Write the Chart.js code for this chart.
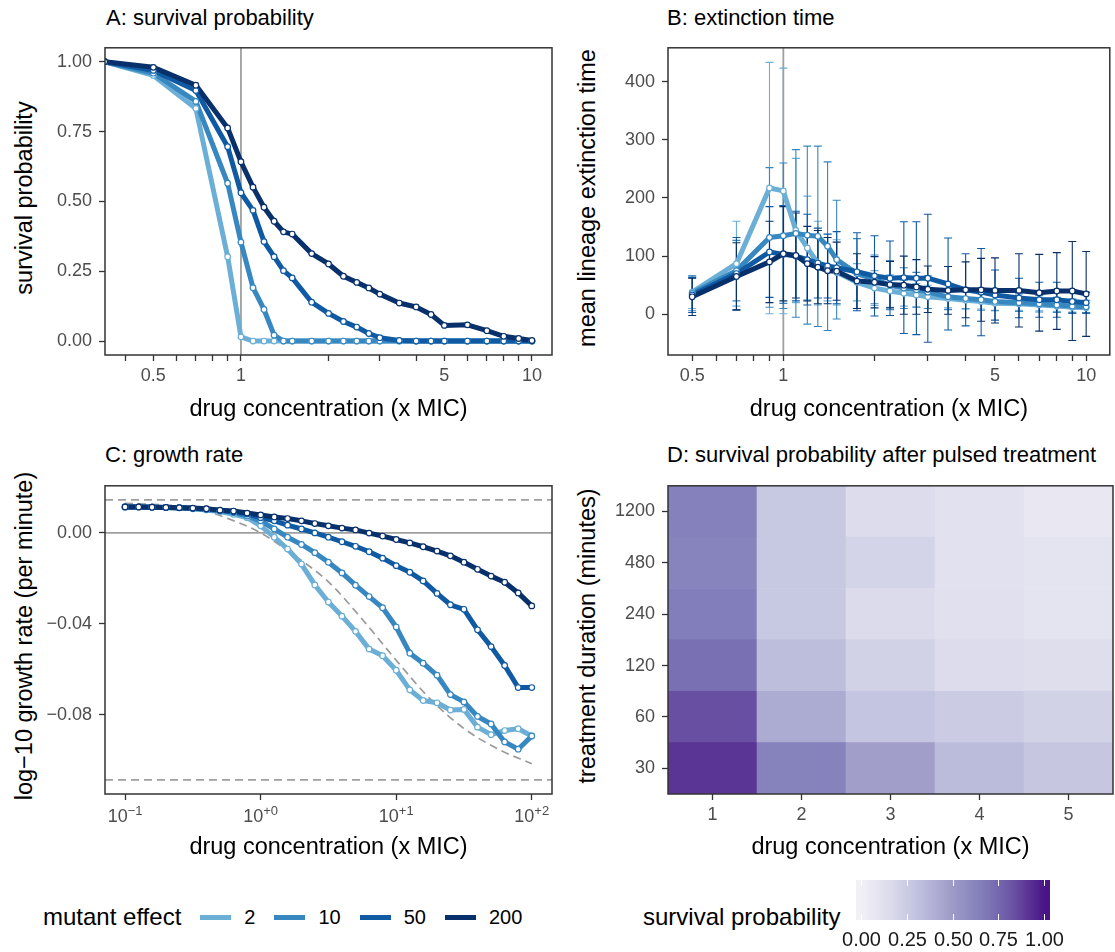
<!DOCTYPE html>
<html>
<head>
<meta charset="utf-8">
<title>mutant survival figure</title>
<script src="https://cdn.jsdelivr.net/npm/chart.js@4.4.1/dist/chart.umd.min.js"></script>
<style>
  body { margin: 0; background: #fff; }
  #fig { position: relative; width: 1115px; height: 952px; overflow: hidden;
         font-family: "Liberation Sans", Arial, Helvetica, sans-serif; color: #000; }
  #fig canvas { position: absolute; }
  .ttl { position: absolute; font-size: 22px; line-height: 1; white-space: nowrap; }
  .ytl { position: absolute; font-size: 23.5px; line-height: 1; white-space: nowrap;
         transform: translate(-50%, -50%) rotate(-90deg); }
  .leg { position: absolute; display: flex; align-items: center; height: 30px; white-space: nowrap; }
</style>
</head>
<body>
<div id="fig">
  <div class="ttl" style="left:106px; top:7px">A: survival probability</div>
  <div class="ttl" style="left:667px; top:7px">B: extinction time</div>
  <div class="ttl" style="left:105px; top:444px">C: growth rate</div>
  <div class="ttl" style="left:667px; top:444px">D: survival probability after pulsed treatment</div>

  <div class="ytl" style="left:25px; top:198px">survival probability</div>
  <div class="ytl" style="left:588px; top:198px">mean lineage extinction time</div>
  <div class="ytl" style="left:25px; top:636px">log&minus;10 growth rate (per minute)</div>
  <div class="ytl" style="left:588px; top:636px">treatment duration (minutes)</div>

  <canvas id="cA" width="560" height="400" style="left:0; top:30px"></canvas>
  <canvas id="cB" width="552" height="400" style="left:563px; top:30px"></canvas>
  <canvas id="cC" width="560" height="400" style="left:0; top:468px"></canvas>
  <canvas id="cD" width="552" height="400" style="left:563px; top:468px"></canvas>

  <div class="leg" id="legMut" style="left:43px; top:902px"></div>
  <div class="leg" style="left:643px; top:902px; font-size:24px">survival probability</div>
  <canvas id="cbar" width="240" height="82" style="left:840px; top:870px"></canvas>
</div>

<script>
// ---- series shared by A, B, C
const effects = ['2', '10', '50', '200'];
const blues = ['#6baed6', '#3787c0', '#0f5aa3', '#08306b'];

// ---- A: survival probability
const concA = [0.34, 0.5, 0.7, 0.9, 1, 1.1, 1.2, 1.3, 1.4, 1.5, 1.75, 2, 2.25, 2.5, 2.75, 3, 3.5, 4, 4.5, 5, 6, 7, 8, 9, 10];
const survA2 = [1, 0.951, 0.833, 0.302, 0.015, 0, 0, 0, 0, 0, 0, 0, 0, 0, 0, 0, 0, 0, 0, 0, 0, 0, 0, 0, 0];
const survA10 = [1, 0.959, 0.858, 0.565, 0.354, 0.191, 0.113, 0.021, 0, 0, 0, 0, 0, 0, 0, 0, 0, 0, 0, 0, 0, 0, 0, 0, 0];
const survA50 = [1, 0.969, 0.897, 0.696, 0.531, 0.468, 0.356, 0.302, 0.252, 0.226, 0.139, 0.099, 0.070, 0.050, 0.027, 0.012, 0.002, 0, 0, 0, 0, 0, 0, 0, 0];
const survA200 = [1, 0.980, 0.916, 0.763, 0.642, 0.551, 0.479, 0.429, 0.391, 0.383, 0.313, 0.276, 0.232, 0.210, 0.190, 0.168, 0.136, 0.122, 0.095, 0.056, 0.058, 0.037, 0.017, 0.009, 0.002];
const ticksA = [0.4, 0.5, 0.6, 0.7, 0.8, 0.9, 1, 2, 3, 4, 5, 6, 7, 8, 9, 10];
const labelsA = [0.5, 1, 5, 10];
const ticksSurv = [0, 0.25, 0.5, 0.75, 1];

// ---- B: extinction time (mean and sd)
const concB = [0.5, 0.7, 0.9, 1, 1.1, 1.2, 1.3, 1.4, 1.5, 1.75, 2, 2.25, 2.5, 2.75, 3, 3.5, 4, 4.5, 5, 6, 7, 8, 9, 10];
const timeB2 = [38, 87, 217, 212, 144, 114, 88, 80, 72, 55, 45, 40, 36, 33, 30, 27, 24, 22, 19, 18, 16, 14, 12, 11];
const sdB2 = [28, 73, 216, 211, 124, 89, 72, 57, 56, 32, 30, 28, 22, 20, 20, 16, 14, 13, 12, 11, 10, 9, 8, 8];
const timeB10 = [36, 75, 132, 135, 139, 136, 134, 117, 94, 70, 60, 50, 45, 42, 38, 30, 27, 25, 22, 20, 18, 16, 14, 13];
const sdB10 = [30, 52, 120, 125, 144, 153, 155, 145, 102, 60, 42, 42, 35, 30, 28, 22, 18, 18, 16, 15, 14, 13, 12, 11];
const timeB50 = [33, 70, 107, 103, 100, 94, 88, 83, 80, 73, 66, 62, 63, 62, 62, 52, 42, 38, 33, 28, 25, 25, 22, 20];
const sdB50 = [30, 62, 78, 84, 77, 78, 60, 55, 62, 67, 69, 64, 96, 97, 110, 79, 62, 75, 43, 34, 30, 30, 20, 18];
const timeB200 = [30, 65, 90, 104, 101, 87, 81, 75, 74, 57, 55, 51, 50, 47, 43, 41, 42, 42, 41, 41, 37, 40, 40, 35];
const sdB200 = [32, 58, 70, 81, 73, 64, 63, 57, 50, 47, 44, 40, 50, 47, 40, 41, 48, 54, 56, 63, 66, 66, 85, 73];
const ticksB = [0.5, 0.6, 0.7, 0.8, 0.9, 1, 2, 3, 4, 5, 6, 7, 8, 9, 10];
const ticksTime = [0, 100, 200, 300, 400];

// ---- C: growth rate
const concC = [0.1, 0.126, 0.158, 0.2, 0.251, 0.316, 0.398, 0.501, 0.631, 0.794, 1, 1.26, 1.58, 2, 2.51, 3.16, 3.98, 5.01, 6.31, 7.94, 10, 12.6, 15.8, 20, 25.1, 31.6, 39.8, 50.1, 63.1, 79.4, 100];
const growth2 = [0.0114, 0.0114, 0.0113, 0.0112, 0.0110, 0.0106, 0.0101, 0.0094, 0.0082, 0.0067, 0.0031, -0.0019, -0.0071, -0.0137, -0.0229, -0.0304, -0.0366, -0.0433, -0.0511, -0.0540, -0.0604, -0.0690, -0.0737, -0.0747, -0.0779, -0.0776, -0.0854, -0.0887, -0.0869, -0.0861, -0.0893];
const growth10 = [0.0114, 0.0114, 0.0113, 0.0112, 0.0110, 0.0107, 0.0103, 0.0097, 0.0089, 0.0074, 0.0053, 0.0017, -0.0019, -0.0051, -0.0087, -0.0129, -0.0176, -0.0230, -0.0280, -0.0329, -0.0414, -0.0529, -0.0573, -0.0626, -0.0711, -0.0743, -0.0807, -0.0840, -0.0919, -0.0951, -0.0893];
const growth50 = [0.0114, 0.0114, 0.0113, 0.0112, 0.0111, 0.0108, 0.0105, 0.0099, 0.0093, 0.0083, 0.0067, 0.0053, 0.0034, 0.0017, 0.0000, -0.0019, -0.0039, -0.0059, -0.0083, -0.0111, -0.0144, -0.0173, -0.0211, -0.0266, -0.0316, -0.0336, -0.0426, -0.0500, -0.0583, -0.0680, -0.0680];
const growth200 = [0.0114, 0.0114, 0.0113, 0.0112, 0.0111, 0.0109, 0.0106, 0.0100, 0.0096, 0.0087, 0.0079, 0.0070, 0.0063, 0.0053, 0.0041, 0.0031, 0.0021, 0.0013, -0.0001, -0.0014, -0.0029, -0.0044, -0.0061, -0.0080, -0.0101, -0.0129, -0.0160, -0.0190, -0.0217, -0.0264, -0.0321];
// wild-type curve (grey dashed) and the growth bounds
const curveX = [0.1, 0.178, 0.316, 0.562, 1, 1.78, 3.16, 5.62, 10, 17.8, 31.6, 56.2, 100];
const curveY = [0.0130, 0.0124, 0.0112, 0.0065, 0, -0.0100, -0.0215, -0.0380, -0.0560, -0.0730, -0.0860, -0.0950, -0.1015];
const boundsC = [0.0145, -0.1086];
const ticksC = [0.1, 1, 10, 100];
const expsC = ['\u22121', '+0', '+1', '+2'];
const ticksGrowth = [-0.08, -0.04, 0];

// ---- D: pulsed treatment heatmap
const concD = ['1', '2', '3', '4', '5'];
const durations = ['30', '60', '120', '240', '480', '1200'];
const survD30 = [0.91, 0.64, 0.48, 0.34, 0.28];
const survD60 = [0.84, 0.42, 0.29, 0.25, 0.21];
const survD120 = [0.72, 0.33, 0.21, 0.15, 0.14];
const survD240 = [0.66, 0.27, 0.16, 0.125, 0.10];
const survD480 = [0.63, 0.27, 0.20, 0.11, 0.10];
const survD1200 = [0.645, 0.27, 0.15, 0.11, 0.07];
const legendTicks = [0, 0.25, 0.5, 0.75, 1];

const purpleStops = ['#f2f0f7', '#dadaeb', '#bcbddc', '#9e9ac8', '#807dba', '#6a51a3', '#4a1486'];

const fam = '"Liberation Sans", Arial, Helvetica, sans-serif';
Chart.defaults.font.family = fam;
Chart.defaults.color = '#4d4d4d';
Chart.defaults.animation = false;

function hexRgb(h) {
  return [1, 3, 5].map(k => parseInt(h.substr(k, 2), 16));
}
function purple(v) {
  const t = Math.max(0, Math.min(1, v)) * (purpleStops.length - 1);
  const i = Math.min(Math.floor(t), purpleStops.length - 2);
  const a = hexRgb(purpleStops[i]), b = hexRgb(purpleStops[i + 1]);
  const f = t - i;
  const c = a.map((x, k) => Math.round(x + (b[k] - x) * f));
  return 'rgb(' + c.join(',') + ')';
}

// lines first (200 on top), then all the points above them, like ggplot
function lineSets(xs, series) {
  const sets = [];
  series.forEach((ys, i) => {
    const pts = xs.map((x, j) => ({ x: x, y: ys[j] }));
    sets.push({ label: effects[i], data: pts, borderColor: blues[i], borderWidth: 5,
      pointRadius: 0, borderJoinStyle: 'round', order: 20 - i });
    sets.push({ label: effects[i] + ' points', data: pts, showLine: false, pointRadius: 2.8,
      pointBorderWidth: 1.2, pointBackgroundColor: '#fff', pointBorderColor: blues[i], order: 10 - i });
  });
  return sets;
}

const gridOpts = { drawOnChartArea: false, drawTicks: true, tickLength: 6, tickWidth: 1.3, tickColor: '#333' };
const tickFont = { size: 18 };
const xTitle = { display: true, text: 'drug concentration (x MIC)', color: '#000', font: { size: 23.5 }, padding: { top: 0, bottom: 6 } };

function logX(min, max, ticks, labelOf, axisH) {
  return {
    type: 'logarithmic', min: min, max: max, bounds: 'data',
    afterBuildTicks: s => { s.ticks = ticks.map(v => ({ value: v })); },
    afterFit: s => { s.height = axisH; },
    border: { display: false },
    grid: gridOpts,
    ticks: { font: tickFont, color: '#4d4d4d', padding: 4, autoSkip: false, maxRotation: 0, callback: labelOf },
    title: xTitle
  };
}
function yAxis(min, max, ticks, labelOf) {
  return {
    min: min, max: max, bounds: 'data',
    afterBuildTicks: s => { s.ticks = ticks.map(v => ({ value: v })); },
    afterFit: s => { s.width = 105; },
    border: { display: false },
    grid: gridOpts,
    ticks: { font: tickFont, color: '#4d4d4d', padding: 7, autoSkip: false, callback: labelOf },
    title: { display: false }
  };
}

const frame = {
  id: 'frame',
  afterDraw(chart) {
    const a = chart.chartArea, c = chart.ctx;
    c.save();
    c.strokeStyle = '#333';
    c.lineWidth = 1.5;
    c.strokeRect(a.left, a.top, a.right - a.left, a.bottom - a.top);
    c.restore();
  }
};

const refs = {
  id: 'refs',
  beforeDatasetsDraw(chart, args, opts) {
    const { ctx, chartArea: a, scales } = chart;
    ctx.save();
    ctx.beginPath();
    ctx.rect(a.left, a.top, a.right - a.left, a.bottom - a.top);
    ctx.clip();
    ctx.strokeStyle = '#a0a0a0';
    ctx.lineWidth = 1.8;
    (opts.v || []).forEach(v => {
      const px = scales.x.getPixelForValue(v);
      ctx.beginPath(); ctx.moveTo(px, a.top); ctx.lineTo(px, a.bottom); ctx.stroke();
    });
    (opts.h || []).forEach(v => {
      const py = scales.y.getPixelForValue(v);
      ctx.beginPath(); ctx.moveTo(a.left, py); ctx.lineTo(a.right, py); ctx.stroke();
    });
    ctx.setLineDash([8, 5]);
    (opts.hDash || []).forEach(v => {
      const py = scales.y.getPixelForValue(v);
      ctx.beginPath(); ctx.moveTo(a.left, py); ctx.lineTo(a.right, py); ctx.stroke();
    });
    ctx.restore();
  }
};

const errBars = {
  id: 'errBars',
  beforeDatasetsDraw(chart, args, opts) {
    if (!opts.sd) return;
    const { ctx, scales: { x, y } } = chart;
    ctx.save();
    ctx.lineWidth = 1.1;
    opts.mean.forEach((m, i) => {
      ctx.strokeStyle = blues[i];
      m.forEach((v, j) => {
        const px = x.getPixelForValue(opts.xs[j]);
        const top = y.getPixelForValue(v + opts.sd[i][j]);
        const bot = y.getPixelForValue(v - opts.sd[i][j]);
        ctx.beginPath();
        ctx.moveTo(px, top); ctx.lineTo(px, bot);
        ctx.moveTo(px - 4, top); ctx.lineTo(px + 4, top);
        ctx.moveTo(px - 4, bot); ctx.lineTo(px + 4, bot);
        ctx.stroke();
      });
    });
    ctx.restore();
  }
};

// 10^k labels with a raised exponent
const powLabels = {
  id: 'powLabels',
  afterDraw(chart, args, opts) {
    if (!opts.ticks) return;
    const { ctx, scales: { x }, chartArea: a } = chart;
    ctx.save();
    ctx.fillStyle = '#4d4d4d';
    ctx.textBaseline = 'alphabetic';
    opts.ticks.forEach((v, i) => {
      ctx.font = '18px ' + fam;
      const wb = ctx.measureText('10').width;
      ctx.font = '13px ' + fam;
      const ws = ctx.measureText(opts.exps[i]).width;
      const left = x.getPixelForValue(v) - (wb + ws) / 2;
      const baseY = a.bottom + 28;
      ctx.font = '18px ' + fam;
      ctx.fillText('10', left, baseY);
      ctx.font = '13px ' + fam;
      ctx.fillText(opts.exps[i], left + wb, baseY - 7);
    });
    ctx.restore();
  }
};

const quiet = { legend: { display: false }, tooltip: { enabled: false } };
const fmt2 = v => (v < 0 ? '\u2212' : '') + Math.abs(v).toFixed(2);
const labelOfA = v => labelsA.indexOf(v) >= 0 ? String(v) : '';

// A
new Chart(document.getElementById('cA'), {
  type: 'line',
  data: { datasets: lineSets(concA, [survA2, survA10, survA50, survA200]) },
  plugins: [frame, refs],
  options: {
    responsive: false, events: [],
    layout: { padding: { top: 11, right: 8, left: 0, bottom: 0 } },
    plugins: Object.assign({ refs: { v: [1] } }, quiet),
    scales: {
      x: logX(0.341, 11.72, ticksA, labelOfA, 75),
      y: yAxis(-0.05, 1.05, ticksSurv, v => v.toFixed(2))
    }
  }
});

// B
new Chart(document.getElementById('cB'), {
  type: 'line',
  data: { datasets: lineSets(concB, [timeB2, timeB10, timeB50, timeB200]) },
  plugins: [frame, refs, errBars],
  options: {
    responsive: false, events: [],
    layout: { padding: { top: 11, right: 1, left: 0, bottom: 0 } },
    plugins: Object.assign({
      refs: { v: [1] },
      errBars: { xs: concB, mean: [timeB2, timeB10, timeB50, timeB200], sd: [sdB2, sdB10, sdB50, sdB200] }
    }, quiet),
    scales: {
      x: logX(0.416, 11.97, ticksB, labelOfA, 75),
      y: yAxis(-70, 458, ticksTime, v => String(v))
    }
  }
});

// C
const setsC = lineSets(concC, [growth2, growth10, growth50, growth200]);
setsC.push({ label: 'wild type', data: curveX.map((x, j) => ({ x: x, y: curveY[j] })),
  borderColor: '#9a9a9a', borderWidth: 1.7, borderDash: [8, 5], pointRadius: 0,
  cubicInterpolationMode: 'monotone', order: 30 });
new Chart(document.getElementById('cC'), {
  type: 'line',
  data: { datasets: setsC },
  plugins: [frame, refs, powLabels],
  options: {
    responsive: false, events: [],
    layout: { padding: { top: 11, right: 8, left: 0, bottom: 0 } },
    plugins: Object.assign({
      refs: { h: [0], hDash: boundsC },
      powLabels: { ticks: ticksC, exps: expsC }
    }, quiet),
    scales: {
      x: logX(0.0711, 141, ticksC, () => '', 74),
      y: yAxis(-0.1148, 0.0207, ticksGrowth, fmt2)
    }
  }
});

// D
const survD = [survD30, survD60, survD120, survD240, survD480, survD1200];
new Chart(document.getElementById('cD'), {
  type: 'bar',
  data: {
    labels: concD,
    datasets: survD.map((row, r) => ({
      label: durations[r],
      data: row.map((v, j) => ({ x: concD[j], y: [r, r + 1] })),
      backgroundColor: row.map(purple),
      borderWidth: 0, barPercentage: 1, categoryPercentage: 1, grouped: false
    }))
  },
  plugins: [frame],
  options: {
    responsive: false, events: [],
    layout: { padding: { top: 11, right: 2, left: 0, bottom: 0 } },
    plugins: quiet,
    scales: {
      x: {
        type: 'category', offset: true,
        afterFit: s => { s.height = 74; },
        border: { display: false },
        grid: Object.assign({}, gridOpts, { offset: false }),
        ticks: { font: tickFont, color: '#4d4d4d', padding: 4, maxRotation: 0 },
        title: xTitle
      },
      y: yAxis(0, 6, durations.map((d, r) => r + 0.5), v => durations[Math.floor(v)])
    }
  }
});

// legend: mutant effect
const leg = document.getElementById('legMut');
leg.innerHTML = '<span style="font-size:24px">mutant effect</span>' + effects.map((e, i) =>
  '<span style="display:inline-block;width:31px;height:5px;background:' + blues[i] +
  ';margin-left:19px"></span><span style="font-size:20px;margin-left:13px">' + e + '</span>').join('');

// legend: colour bar
const cb = document.getElementById('cbar').getContext('2d');
const barL = 16, barR = 210, barT = 10, barB = 50;
for (let px = barL; px < barR; px++) {
  cb.fillStyle = purple((px + 0.5 - barL - 4.7) / 183.6);
  cb.fillRect(px, barT, 1, barB - barT);
}
cb.strokeStyle = '#fff';
cb.lineWidth = 1;
cb.fillStyle = '#1a1a1a';
cb.font = '20px ' + fam;
cb.textAlign = 'center';
cb.textBaseline = 'middle';
legendTicks.forEach(v => {
  const px = Math.round(barL + 4.7 + v * 183.6) + 0.5;
  cb.beginPath();
  cb.moveTo(px, barT); cb.lineTo(px, barT + 6);
  cb.moveTo(px, barB - 6); cb.lineTo(px, barB);
  cb.stroke();
  cb.fillText(v.toFixed(2), px, 70);
});
</script>
</body>
</html>
